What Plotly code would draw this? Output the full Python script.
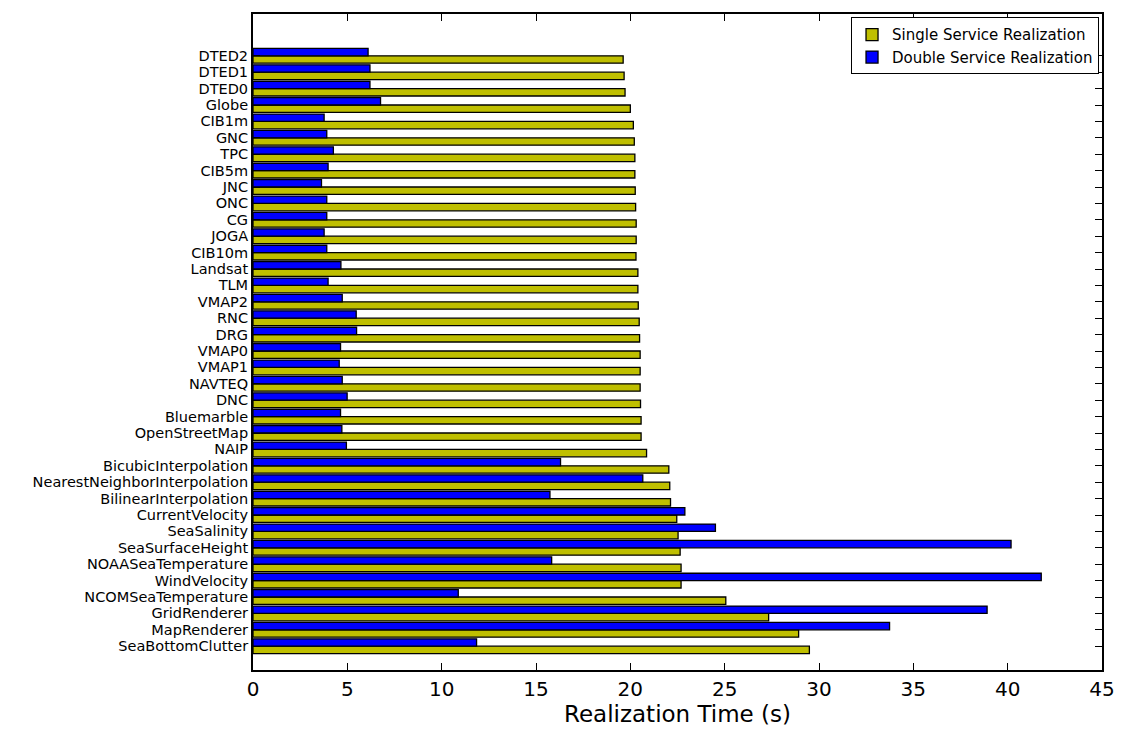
import plotly.graph_objects as go

# Services, listed bottom-to-top (index 0 is drawn at the bottom of the axis)
services = [
    "SeaBottomClutter", "MapRenderer", "GridRenderer", "NCOMSeaTemperature",
    "WindVelocity", "NOAASeaTemperature", "SeaSurfaceHeight", "SeaSalinity",
    "CurrentVelocity", "BilinearInterpolation", "NearestNeighborInterpolation",
    "BicubicInterpolation", "NAIP", "OpenStreetMap", "Bluemarble", "DNC",
    "NAVTEQ", "VMAP1", "VMAP0", "DRG", "RNC", "VMAP2", "TLM", "Landsat",
    "CIB10m", "JOGA", "CG", "ONC", "JNC", "CIB5m", "TPC", "GNC", "CIB1m",
    "Globe", "DTED0", "DTED1", "DTED2",
]

single_time = [
    29.49, 28.92, 27.33, 25.06,
    22.69, 22.69, 22.64, 22.53,
    22.46, 22.13, 22.09,
    22.04, 20.86, 20.57, 20.57, 20.54,
    20.52, 20.52, 20.52, 20.49, 20.47, 20.42, 20.40, 20.40,
    20.30, 20.31, 20.31, 20.28, 20.26, 20.24, 20.24, 20.21, 20.16,
    20.00, 19.72, 19.67, 19.62,
]

double_time = [
    11.85, 33.74, 38.91, 10.88,
    41.78, 15.83, 40.18, 24.51,
    22.89, 15.74, 20.66,
    16.30, 4.95, 4.71, 4.64, 4.99,
    4.73, 4.57, 4.64, 5.49, 5.47, 4.73, 3.98, 4.66,
    3.91, 3.77, 3.91, 3.91, 3.63, 3.98, 4.26, 3.91, 3.77,
    6.76, 6.20, 6.20, 6.10,
]

bar_h = 0.45
idx = list(range(len(services)))
tick_pos = [i + bar_h for i in idx]

fig = go.Figure()
fig.add_trace(go.Bar(
    name="Single Service Realization",
    y=idx, x=single_time, orientation="h",
    width=bar_h, offset=0,
    marker=dict(color="#bfbf00", line=dict(color="black", width=1.3)),
))
fig.add_trace(go.Bar(
    name="Double Service Realization",
    y=idx, x=double_time, orientation="h",
    width=bar_h, offset=bar_h,
    marker=dict(color="#0000ff", line=dict(color="black", width=1.3)),
))

fig.update_layout(
    width=1127, height=731,
    margin=dict(l=253, r=22, t=14, b=59),
    paper_bgcolor="white", plot_bgcolor="white",
    barmode="overlay",
    font=dict(family="DejaVu Sans", color="black"),
    legend=dict(
        x=0.9965, y=0.995, xanchor="right", yanchor="top",
        bgcolor="white", bordercolor="black", borderwidth=1,
        font=dict(size=15, family="DejaVu Sans"),
        traceorder="normal", tracegroupgap=0,
    ),
    showlegend=True,
)

fig.update_xaxes(
    range=[0, 45], tickvals=list(range(0, 46, 5)),
    ticks="inside", ticklen=7, tickwidth=1, tickcolor="black",
    showline=True, linecolor="black", linewidth=2, mirror="ticks",
    showgrid=False, zeroline=False,
    tickfont=dict(size=20, family="DejaVu Sans"),
    title=dict(text="Realization Time (s)", font=dict(size=23, family="DejaVu Sans"), standoff=2),
)
fig.update_yaxes(
    range=[-1, 39], tickvals=tick_pos, ticktext=services,
    ticks="inside", ticklen=7, tickwidth=1, tickcolor="black",
    showline=True, linecolor="black", linewidth=2, mirror="ticks",
    showgrid=False, zeroline=False,
    tickfont=dict(size=14.5, family="DejaVu Sans"),
)

fig.write_html("out.html")
